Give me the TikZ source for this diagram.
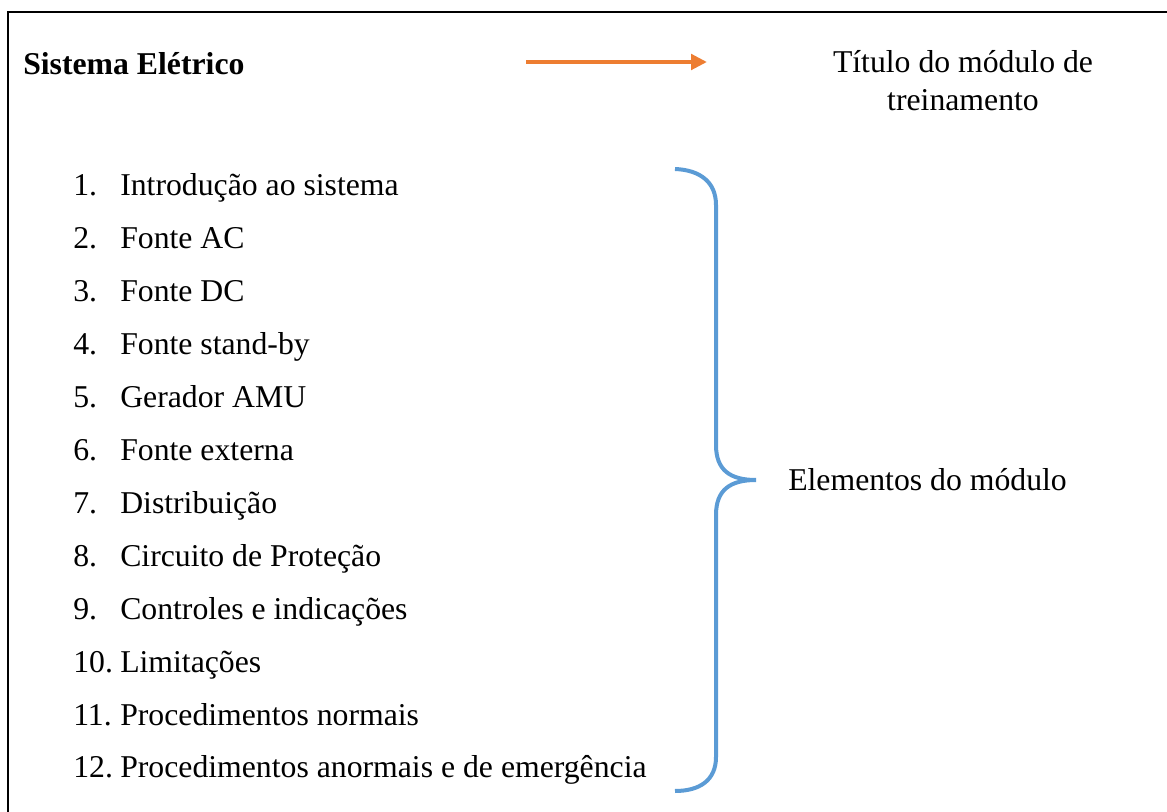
\documentclass[tikz,border=0pt]{standalone}
\usepackage{fontspec}
\setmainfont{Liberation Serif}
\usetikzlibrary{arrows.meta}
\definecolor{arrorange}{RGB}{237,125,49}
\definecolor{braceblue}{RGB}{91,155,213}
\begin{document}
\begin{tikzpicture}[x=0.75pt,y=-0.75pt,
  txt/.style={inner sep=0pt,font=\fontsize{23.8}{28.5}\selectfont},
  num/.style={txt,anchor=base west},
  item/.style={txt,anchor=base west}]
\useasboundingbox (0,0) rectangle (1167,812);
\draw[line width=2pt] (8,830) -- (8,12) -- (1180,12);
\node[txt,anchor=base west,font=\fontsize{23.8}{28.5}\selectfont\bfseries] (title) at (23,75) {Sistema Elétrico};
\coordinate (a1) at (526,62);
\coordinate (a2) at (707,62);
\draw[arrorange,line width=3pt,-{Triangle[length=12pt,width=11.5pt]}] (a1) -- (a2);
\node[txt,anchor=base] (tlabel1) at (963,73) {Título do módulo de};
\node[txt,anchor=base] (tlabel2) at (963,111) {treinamento};
\foreach \n/\t [count=\i from 0] in {1/Introdução ao sistema,2/Fonte AC,3/Fonte DC,4/Fonte stand-by,5/Gerador AMU,6/Fonte externa,7/Distribuição,8/Circuito de Proteção,9/Controles e indicações,10/Limitações,11/Procedimentos normais,12/Procedimentos anormais e de emergência}{
  \node[num] (n\n) at (73,{196+52.9*\i}) {\n.};
  \node[item] (t\n) at (120,{196+52.9*\i}) {\t};
}
\coordinate (b1) at (675,169);
\coordinate (b2) at (675,791);
\coordinate (tip) at (756,480);
\draw[braceblue,line width=3pt]
  (b1) .. controls (700,170) and (716,182) .. (716,205)
  -- (716,445) .. controls (716,470) and (730,480) .. (tip)
  .. controls (730,480) and (716,490) .. (716,515)
  -- (716,757) .. controls (716,780) and (700,791) .. (b2);
\node[txt,anchor=base west] (elab) at (788,490) {Elementos do módulo};
\end{tikzpicture}
\end{document}
